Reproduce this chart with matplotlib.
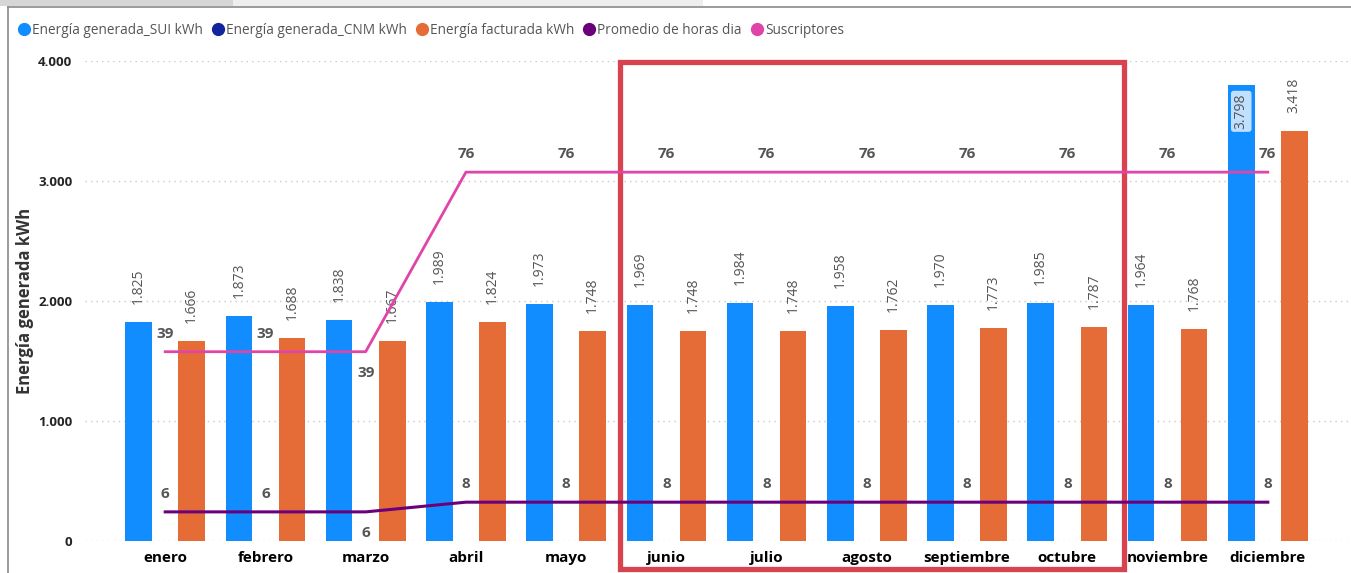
import numpy as np
import matplotlib.pyplot as plt
from matplotlib.lines import Line2D
from matplotlib.patches import Rectangle
import matplotlib.transforms as mtransforms

plt.rcParams['font.family'] = ['Open Sans', 'DejaVu Sans']

meses = ["enero", "febrero", "marzo", "abril", "mayo", "junio", "julio",
         "agosto", "septiembre", "octubre", "noviembre", "diciembre"]
energia_sui = [1825, 1873, 1838, 1989, 1973, 1969, 1984, 1958, 1970, 1985, 1964, 3798]
energia_cnm = [np.nan] * 12   # sin datos en el periodo
energia_facturada = [1666, 1688, 1667, 1824, 1748, 1748, 1748, 1762, 1773, 1787, 1768, 3418]
horas_dia = [6, 6, 6, 8, 8, 8, 8, 8, 8, 8, 8, 8]
suscriptores = [39, 39, 39, 76, 76, 76, 76, 76, 76, 76, 76, 76]

c_sui = "#118DFF"
c_cnm = "#12239E"
c_fact = "#E66C37"
c_horas = "#6B007B"
c_susc = "#E044A7"
gris = "#555555"


def fmt(v):
    return f"{v:,}".replace(",", ".")


W, H = 1351, 573
fig = plt.figure(figsize=(W / 100, H / 100), dpi=100)
ax = fig.add_axes([85 / W, (H - 541) / H, (W - 85) / W, 480 / H])
x = np.arange(len(meses))
ancho = 0.265

ax.bar(x - ancho, energia_sui, ancho, color=c_sui, zorder=2)
ax.bar(x, energia_cnm, ancho, color=c_cnm, zorder=2)
ax.bar(x + ancho, energia_facturada, ancho, color=c_fact, zorder=2)

ax.set_xlim(-0.80, 11.83)
ax.set_ylim(0, 4000)
ax.set_yticks([0, 1000, 2000, 3000, 4000])
ax.set_yticklabels([fmt(t) for t in [0, 1000, 2000, 3000, 4000]],
                   fontsize=9.5, fontweight='bold', color="#252423")
ax.set_xticks(x)
ax.set_xticklabels(meses, fontsize=11, fontweight='bold', color="#000000")
ax.tick_params(axis='y', length=0, pad=9)
ax.tick_params(axis='x', length=0, pad=7)
ax.yaxis.grid(True, linestyle=(0, (1, 3)), color="#c8c8c8", linewidth=1, zorder=0)
ax.set_axisbelow(True)
for s in ax.spines.values():
    s.set_visible(False)
ax.set_ylabel("Energía generada kWh", fontsize=12, fontweight='bold',
              color="#333333", labelpad=3)

# etiquetas de las barras
for xi, v in zip(x, energia_sui):
    if v > 3500:
        ax.annotate(fmt(v), (xi - ancho, v), xytext=(0, -6), textcoords='offset points',
                    rotation=90, ha='center', va='top', fontsize=10, color=gris,
                    bbox=dict(boxstyle='round,pad=0.2', fc="#BFE0FF", ec='none'), zorder=5)
    else:
        ax.annotate(fmt(v), (xi - ancho, v), xytext=(0, 13), textcoords='offset points',
                    rotation=90, ha='center', va='bottom', fontsize=10, color=gris)
for xi, v in zip(x, energia_facturada):
    ax.annotate(fmt(v), (xi + ancho, v), xytext=(0, 13), textcoords='offset points',
                rotation=90, ha='center', va='bottom', fontsize=10, color=gris)

# lineas en eje secundario
ax2 = ax.twinx()
ax2.set_ylim(0, 98.9)
ax2.set_xlim(ax.get_xlim())
ax2.axis('off')
ax2.plot(x, suscriptores, color=c_susc, lw=2, zorder=3)
ax2.plot(x, horas_dia, color=c_horas, lw=2.2, zorder=3)

abajo = {2}
caja = dict(boxstyle='round,pad=0.25', fc='white', ec='none', alpha=0.75)
for i, (s, h) in enumerate(zip(suscriptores, horas_dia)):
    dy = -10 if i in abajo else 8
    va = 'top' if i in abajo else 'bottom'
    for val in (s, h):
        ax2.annotate(str(val), (x[i], val), xytext=(0, dy), textcoords='offset points',
                     ha='center', va=va, fontsize=11, fontweight='bold', color=gris,
                     bbox=caja, zorder=6)

# recuadro de resaltado junio-octubre
trans = mtransforms.blended_transform_factory(ax.transData, fig.transFigure)
ax.add_patch(Rectangle((4.54, (H - 569) / H), 5.03, 507 / H, transform=trans,
                       fill=False, ec="#D9434F", lw=3.8, clip_on=False, zorder=10))

# leyenda
handles = [Line2D([], [], marker='o', ls='none', markersize=8.5, color=c)
           for c in [c_sui, c_cnm, c_fact, c_horas, c_susc]]
etiquetas = ["Energía generada_SUI kWh", "Energía generada_CNM kWh",
             "Energía facturada kWh", "Promedio de horas dia", "Suscriptores"]
fig.legend(handles, etiquetas, loc='center left', bbox_to_anchor=(10 / W, 1 - 30 / H),
           ncol=5, frameon=False, fontsize=9.8, labelcolor=gris, handletextpad=0.1,
           columnspacing=0.6, handlelength=1.0, borderpad=0)

# marco del visual
fig.add_artist(Line2D([8 / W, 8 / W], [0, 1 - 7 / H], color="#8a8a8a", lw=1.2))
fig.add_artist(Line2D([8 / W, 1], [1 - 7 / H, 1 - 7 / H], color="#8a8a8a", lw=1.2))
fig.add_artist(Rectangle((0, 1 - 6 / H), 233 / W, 6 / H, color="#d6d6d6", lw=0))
fig.add_artist(Rectangle((233 / W, 1 - 6 / H), 470 / W, 6 / H, color="#eeeeee", lw=0))

fig.savefig("out.png", dpi=100)
